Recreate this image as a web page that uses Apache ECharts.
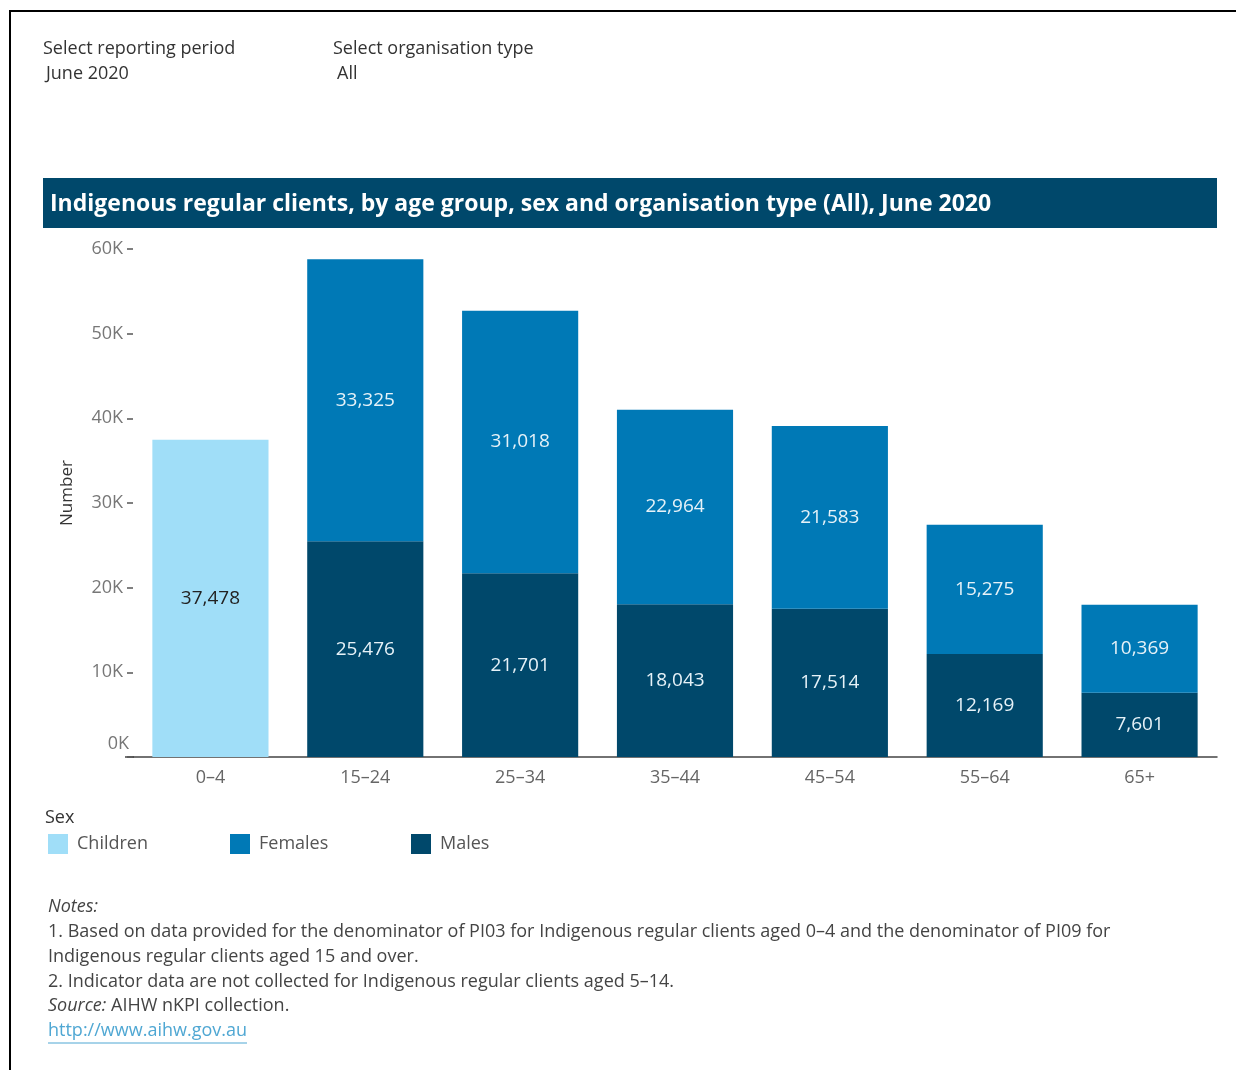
<!DOCTYPE html>
<html>
<head>
<meta charset="utf-8">
<script src="https://cdn.jsdelivr.net/npm/echarts@6/dist/echarts.min.js"></script>
<style>
  html, body { margin: 0; padding: 0; background: #fff; }
  #chart { width: 1236px; height: 1070px; }
</style>
</head>
<body>
<div id="chart"></div>
<script>
// Age groups along the x axis
const ageGroups = ['0–4', '15–24', '25–34', '35–44', '45–54', '55–64', '65+'];
// Regular clients by sex (children only apply to the 0–4 group)
const children = [37478, null, null, null, null, null, null];
const males    = [null, 25476, 21701, 18043, 17514, 12169, 7601];
const females  = [null, 33325, 31018, 22964, 21583, 15275, 10369];
// Y axis ticks
const yTicks = [0, 10000, 20000, 30000, 40000, 50000, 60000];
// Legend entries
const legendNames = ['Children', 'Females', 'Males'];

const FONT = '"Open Sans", sans-serif';
const COLORS = { children: '#a0def8', females: '#0079b6', males: '#00486b' };

const fmt = v => v.toLocaleString('en-US');

const chart = echarts.init(document.getElementById('chart'), null, { renderer: 'canvas' });

const labelCommon = {
  show: true,
  position: 'inside',
  fontFamily: FONT,
  fontSize: 19,
  formatter: p => fmt(p.value)
};

// One legend block per entry so each sits at its own column
const legendLefts = [43, 225, 406];
const legends = legendNames.map((name, i) => ({
  left: legendLefts[i],
  top: 829,
  icon: 'rect',
  itemWidth: 20,
  itemHeight: 20,
  selectedMode: false,
  data: [name],
  textStyle: { color: '#555', fontSize: 18, fontFamily: FONT, padding: [0, 0, 0, 4] }
}));

const linkText = 'http://www.aihw.gov.au';
const linkFont = '18px ' + FONT;
const linkWidth = echarts.format.getTextRect
  ? echarts.format.getTextRect(linkText, linkFont).width
  : 200;

chart.setOption({
  backgroundColor: '#ffffff',
  animation: false,
  textStyle: { fontFamily: FONT },
  grid: { left: 133, right: 19, top: 249, height: 508 },
  xAxis: {
    type: 'category',
    data: ageGroups,
    axisLine: { show: true, lineStyle: { color: '#444', width: 1.5 } },
    axisTick: { show: false },
    axisLabel: { color: '#666', fontSize: 18, fontFamily: FONT, margin: 12 }
  },
  yAxis: {
    type: 'value',
    min: yTicks[0],
    max: yTicks[yTicks.length - 1],
    interval: 10000,
    splitLine: { show: false },
    axisLine: { show: false },
    axisTick: { show: true, length: 6, lineStyle: { color: '#555', width: 1.5 } },
    axisLabel: {
      color: '#777',
      fontSize: 18,
      fontFamily: FONT,
      margin: 10,
      formatter: v => v === 0 ? '{z|0K}' : (v / 1000) + 'K',
      rich: { z: { color: '#777', fontSize: 18, fontFamily: FONT, padding: [0, -6, 26, 0] } }
    }
  },
  legend: legends,
  series: [
    {
      name: 'Children', type: 'bar', stack: 'total', barWidth: '75%',
      data: children,
      itemStyle: { color: COLORS.children },
      label: Object.assign({}, labelCommon, { color: '#222' })
    },
    {
      name: 'Males', type: 'bar', stack: 'total', barWidth: '75%',
      data: males,
      itemStyle: { color: COLORS.males },
      label: Object.assign({}, labelCommon, { color: '#e6f2f8' })
    },
    {
      name: 'Females', type: 'bar', stack: 'total', barWidth: '75%',
      data: females,
      itemStyle: { color: COLORS.females },
      label: Object.assign({}, labelCommon, { color: '#e6f2f8' })
    }
  ],
  graphic: [
    // frame
    { type: 'rect', shape: { x: 10, y: 11, width: 1400, height: 1200 },
      style: { fill: 'none', stroke: '#000', lineWidth: 2 }, silent: true },
    // filters
    { type: 'text', left: 43, top: 40, style: { text: 'Select reporting period', fill: '#333', font: '18px ' + FONT } },
    { type: 'text', left: 46, top: 65, style: { text: 'June 2020', fill: '#333', font: '18px ' + FONT } },
    { type: 'text', left: 333, top: 40, style: { text: 'Select organisation type', fill: '#333', font: '18px ' + FONT } },
    { type: 'text', left: 337, top: 65, style: { text: 'All', fill: '#333', font: '18px ' + FONT } },
    // title bar
    { type: 'rect', shape: { x: 43, y: 178, width: 1174, height: 50 }, style: { fill: '#00486b' }, silent: true },
    { type: 'text', left: 50, top: 193, style: {
        text: 'Indigenous regular clients, by age group, sex and organisation type (All), June 2020',
        fill: '#ffffff', font: 'bold 23px ' + FONT } },
    // y axis title
    { type: 'text', x: 67, y: 493, rotation: Math.PI / 2, style: {
        text: 'Number', fill: '#333', font: '17px ' + FONT, align: 'center', verticalAlign: 'middle' } },
    // extension of the baseline to the left of the plot
    { type: 'line', shape: { x1: 125, y1: 757, x2: 134, y2: 757 }, style: { stroke: '#444', lineWidth: 1.5 } },
    // legend heading
    { type: 'text', left: 45, top: 809, style: { text: 'Sex', fill: '#333', font: '18px ' + FONT } },
    // notes
    { type: 'text', left: 48, top: 898, style: { text: 'Notes:', fill: '#444', font: 'italic 18px ' + FONT } },
    { type: 'text', left: 48, top: 923, style: {
        text: '1. Based on data provided for the denominator of PI03 for Indigenous regular clients aged 0–4 and the denominator of PI09 for',
        fill: '#444', font: '18px ' + FONT } },
    { type: 'text', left: 48, top: 948, style: { text: 'Indigenous regular clients aged 15 and over.', fill: '#444', font: '18px ' + FONT } },
    { type: 'text', left: 48, top: 973, style: { text: '2. Indicator data are not collected for Indigenous regular clients aged 5–14.', fill: '#444', font: '18px ' + FONT } },
    { type: 'text', left: 48, top: 997, style: {
        text: '{i|Source:} AIHW nKPI collection.', fill: '#444', font: '18px ' + FONT,
        rich: { i: { fontStyle: 'italic', fontSize: 18, fontFamily: FONT, fill: '#444' } } } },
    { type: 'text', left: 48, top: 1022, style: { text: linkText, fill: '#4fa7d3', font: linkFont } },
    { type: 'line', shape: { x1: 48, y1: 1043, x2: 48 + linkWidth, y2: 1043 }, style: { stroke: '#4fa7d3', lineWidth: 1 } }
  ]
});
</script>
</body>
</html>
